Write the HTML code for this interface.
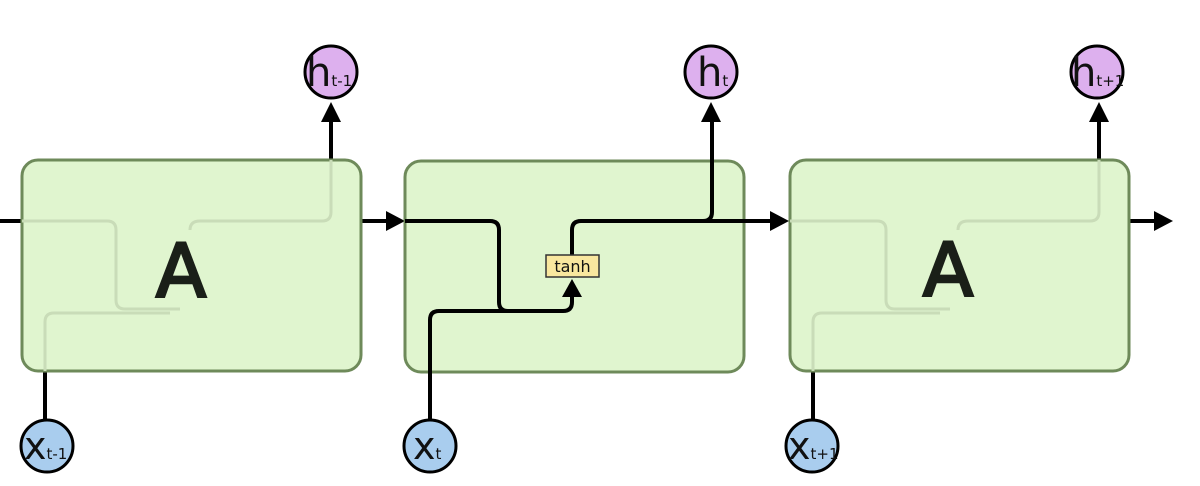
<!DOCTYPE html>
<html><head><meta charset="utf-8"><style>
html,body{margin:0;padding:0;background:#fff;width:1200px;height:486px;overflow:hidden}
text{font-family:"DejaVu Sans","Liberation Sans",sans-serif}
</style></head><body>
<svg width="1200" height="486" viewBox="0 0 1200 486" xmlns="http://www.w3.org/2000/svg">
<g stroke="#000" stroke-width="4" fill="none">
<line x1="0" y1="221" x2="22" y2="221"/>
<line x1="45" y1="371" x2="45" y2="420"/>
<line x1="331" y1="160" x2="331" y2="110"/>
<line x1="361" y1="221" x2="395" y2="221"/>
<line x1="813" y1="371" x2="813" y2="420"/>
<line x1="1099" y1="160" x2="1099" y2="110"/>
<line x1="1129" y1="221" x2="1163" y2="221"/>
</g>
<g fill="#000">
<path d="M321,122 L331,102 L341,122 z"/>
<path d="M386,211 L405,221 L386,231 z"/>
<path d="M701,122 L711,102 L721,122 z"/>
<path d="M770,211 L789,221 L770,231 z"/>
<path d="M1089,122 L1099,102 L1109,122 z"/>
<path d="M1154,211 L1173,221 L1154,231 z"/>
</g>
<rect x="22" y="160" width="339" height="211" rx="16" fill="#e0f5cf" stroke="#6e8a5a" stroke-width="3"/>
<rect x="405" y="161" width="339" height="211" rx="16" fill="#e0f5cf" stroke="#6e8a5a" stroke-width="3"/>
<rect x="790" y="160" width="339" height="211" rx="16" fill="#e0f5cf" stroke="#6e8a5a" stroke-width="3"/>
<g stroke="#c9dcb8" stroke-width="3" fill="none">
<path d="M22,221 H107 Q116,221 116,230 V300 Q116,309 125,309 H180"/>
<path d="M45,371 V322 Q45,313 54,313 H170"/>
<path d="M190,230 Q190,221 200,221 H322 Q331,221 331,212 V160"/>
<path d="M790,221 H877 Q886,221 886,230 V300 Q886,309 895,309 H950"/>
<path d="M813,371 V322 Q813,313 822,313 H940"/>
<path d="M958,230 Q958,221 968,221 H1090 Q1099,221 1099,212 V160"/>
</g>
<text x="181" y="297" font-size="74" text-anchor="middle" fill="#1a1f18" stroke="#1a1f18" stroke-width="2.5">A</text>
<text x="948" y="296" font-size="74" text-anchor="middle" fill="#1a1f18" stroke="#1a1f18" stroke-width="2.5">A</text>
<g stroke="#000" stroke-width="4" fill="none">
<path d="M405,221 H490 Q499,221 499,230 V302 Q499,311 508,311 H563 Q572,311 572,302 V292"/>
<path d="M430,420 V320 Q430,311 439,311 H508"/>
<path d="M572,255 V230 Q572,221 581,221 H703 Q712,221 712,212 V118"/>
<path d="M700,221 H775"/>
</g>
<path d="M562,297 L572,279 L582,297 z" fill="#000"/>
<rect x="546" y="255" width="53" height="22" fill="#f9e79f" stroke="#333" stroke-width="1.5"/>
<text x="572.5" y="272" font-size="16" text-anchor="middle" fill="#111">tanh</text>
<g stroke="#000" stroke-width="3">
<circle cx="331" cy="72" r="26" fill="#ddb0ee"/>
<circle cx="711" cy="72" r="26" fill="#ddb0ee"/>
<circle cx="1097" cy="72" r="26" fill="#ddb0ee"/>
<circle cx="47" cy="446" r="26" fill="#a9cdee"/>
<circle cx="430" cy="446" r="26" fill="#a9cdee"/>
<circle cx="812" cy="446" r="26" fill="#a9cdee"/>
</g>
<g fill="#111">
<text x="306" y="86" font-size="40">h<tspan font-size="15">t-1</tspan></text>
<text x="697" y="86" font-size="40">h<tspan font-size="15">t</tspan></text>
<text x="1071" y="86" font-size="40">h<tspan font-size="15">t+1</tspan></text>
<text x="24" y="459" font-size="38">x<tspan font-size="15">t-1</tspan></text>
<text x="413" y="459" font-size="38">x<tspan font-size="15">t</tspan></text>
<text x="788" y="459" font-size="38">x<tspan font-size="15">t+1</tspan></text>
</g>
</svg>
</body></html>
